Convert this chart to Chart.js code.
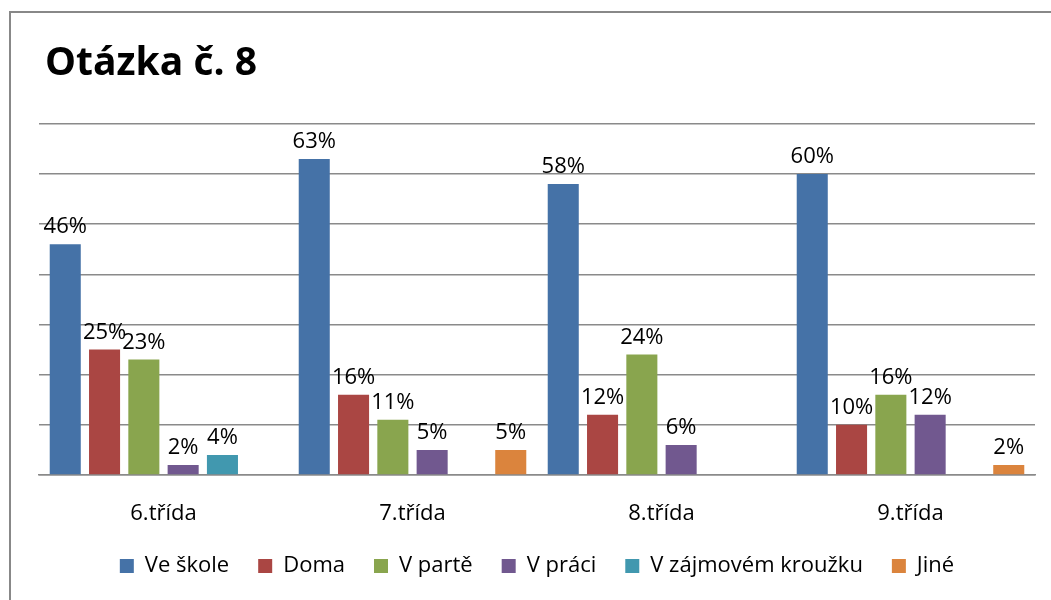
<!DOCTYPE html>
<html>
<head>
<meta charset="utf-8">
<title>Otázka č. 8</title>
<script src="https://cdn.jsdelivr.net/npm/chart.js@4.4.0/dist/chart.umd.min.js"></script>
<style>
  html, body { margin: 0; padding: 0; background: #fff; overflow: hidden; }
  #chart { display: block; }
</style>
</head>
<body>
<canvas id="chart" width="1051" height="600"></canvas>
<script>
// Data (percent of answers per class)
const categories = ['6.třída', '7.třída', '8.třída', '9.třída']
const seriesNames = ['Ve škole', 'Doma', 'V partě', 'V práci', 'V zájmovém kroužku', 'Jiné']
const veSkole = [46, 63, 58, 60]
const doma = [25, 16, 12, 10]
const vParte = [23, 11, 24, 16]
const vPraci = [2, 5, 6, 12]
const vKrouzku = [4, null, null, null]
const jine = [null, 5, null, 2]
const yMax = 70
const yStep = 10

// Colours, one per series
const seriesColors = ['#4572A7', '#AA4643', '#89A54E', '#71588F', '#4198AF', '#DB843D']

const gridGray = '#8a8a8a'
const fontFamily = "'Open Sans', 'Noto Sans', sans-serif"

// Outer frame of the chart (Excel-like border) + small title indent
const framePlugin = {
	id: 'frame',
	afterLayout(chart) {
		if (chart.titleBlock) chart.titleBlock.left += 6
	},
	beforeDraw(chart) {
		const ctx = chart.ctx
		ctx.save()
		ctx.fillStyle = '#fff'
		ctx.fillRect(0, 0, chart.width, chart.height)
		ctx.strokeStyle = '#888'
		ctx.lineWidth = 2
		ctx.strokeRect(10, 12, chart.width + 50, chart.height + 50)
		ctx.restore()
	}
}

// Value labels above each bar
const valueLabels = {
	id: 'valueLabels',
	afterDatasetsDraw(chart) {
		const ctx = chart.ctx
		ctx.save()
		ctx.font = '22px ' + fontFamily
		ctx.fillStyle = '#000'
		ctx.textAlign = 'center'
		ctx.textBaseline = 'alphabetic'
		chart.data.datasets.forEach((ds, i) => {
			const meta = chart.getDatasetMeta(i)
			meta.data.forEach((bar, j) => {
				const v = ds.data[j]
				if (v === null || v === undefined) return
				ctx.fillText(v + '%', bar.x, bar.y - 11)
			})
		})
		ctx.restore()
	}
}

const seriesData = [veSkole, doma, vParte, vPraci, vKrouzku, jine]

new Chart(document.getElementById('chart'), {
	type: 'bar',
	data: {
		labels: categories,
		datasets: seriesNames.map((name, i) => ({
			label: name,
			data: seriesData[i],
			backgroundColor: seriesColors[i],
			borderWidth: 0,
			categoryPercentage: 0.947,
			barPercentage: 0.79
		}))
	},
	options: {
		responsive: false,
		animation: false,
		layout: { padding: { left: 39, right: 16, top: 0, bottom: 13 } },
		plugins: {
			title: {
				display: true,
				text: 'Otázka č. 8',
				align: 'start',
				color: '#000',
				font: { family: fontFamily, size: 39, weight: 'bold' },
				padding: { top: 40, bottom: 37 }
			},
			legend: {
				position: 'bottom',
				labels: {
					boxWidth: 14,
					boxHeight: 14,
					padding: 29,
					color: '#000',
					font: { family: fontFamily, size: 22 }
				}
			},
			tooltip: { enabled: false }
		},
		scales: {
			x: {
				grid: { display: false, drawTicks: false },
				border: { display: true, color: gridGray, width: 1.5 },
				ticks: {
					color: '#000',
					padding: 35,
					font: { family: fontFamily, size: 22, lineHeight: 8 / 22 }
				},
				afterFit(scale) { scale.height = 51 }
			},
			y: {
				min: 0,
				max: yMax,
				ticks: { display: false, stepSize: yStep },
				grid: { color: gridGray, lineWidth: 1.5, drawTicks: false },
				border: { display: false }
			}
		}
	},
	plugins: [framePlugin, valueLabels]
})
</script>
</body>
</html>
